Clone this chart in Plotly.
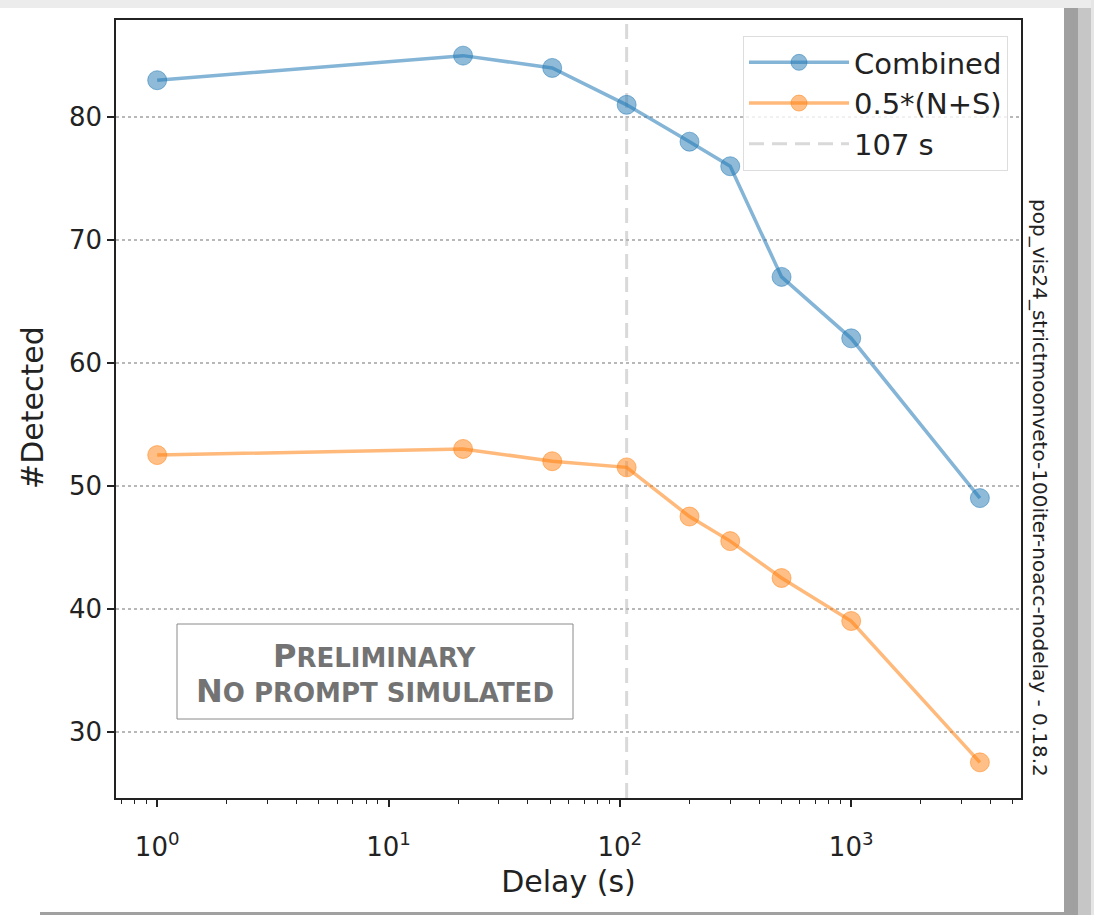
import plotly.graph_objects as go

# ---- data ----
delay_s = [1, 21, 51, 107, 200, 300, 500, 1000, 3600]
combined = [83, 85, 84, 81, 78, 76, 67, 62, 49]
half_ns = [52.5, 53, 52, 51.5, 47.5, 45.5, 42.5, 39, 27.5]
vline_delay = 107
x_tickvals = [1, 10, 100, 1000]
x_ticktext = ["10<sup>0</sup>", "10<sup>1</sup>", "10<sup>2</sup>", "10<sup>3</sup>"]
y_tickvals = [30, 40, 50, 60, 70, 80]

W, H = 1094, 915
ML, MR, MT, MB = 116, 73, 20, 117
PW, PH = W - ML - MR, H - MT - MB

def px(x):
    return (x - ML) / PW

def py(y):
    return (H - MB - y) / PH

FONT = "DejaVu Sans"
BLUE = "31,119,180"
ORANGE = "255,127,14"

minor_vals = []
for d in [0.1, 1, 10, 100, 1000]:
    for k in range(2, 10):
        minor_vals.append(k * d)

fig = go.Figure()
fig.add_trace(go.Scatter(
    x=delay_s, y=combined, name="Combined", mode="lines+markers",
    line=dict(color=f"rgba({BLUE},0.55)", width=3.5),
    marker=dict(size=19, color=f"rgba({BLUE},0.5)",
                line=dict(color=f"rgba({BLUE},0.5)", width=1)),
))
fig.add_trace(go.Scatter(
    x=delay_s, y=half_ns, name="0.5*(N+S)", mode="lines+markers",
    line=dict(color=f"rgba({ORANGE},0.55)", width=3.5),
    marker=dict(size=19, color=f"rgba({ORANGE},0.5)",
                line=dict(color=f"rgba({ORANGE},0.5)", width=1)),
))
fig.add_shape(type="line", xref="x", yref="paper", x0=vline_delay, x1=vline_delay,
              y0=0, y1=1, line=dict(color="#d9d9d9", width=3, dash="15px,8px"),
              showlegend=True, name=f"{vline_delay} s", layer="below")

# frame decoration (grey border of the screenshot)
frame = [
    (0, 0, W, 8, "#ececec"),
    (1064, 8, 1078, H, "#a0a0a0"),
    (1078, 8, 1091, H, "#c6c6c6"),
    (1091, 0, W, H, "#e6e6e6"),
    (40, 912, 1064, H, "#a0a0a0"),
]
for x0, y0, x1, y1, c in frame:
    fig.add_shape(type="rect", xref="paper", yref="paper",
                  x0=px(x0), x1=px(x1), y0=py(y1), y1=py(y0),
                  fillcolor=c, line=dict(width=0), layer="below")

# preliminary box
fig.add_shape(type="rect", xref="paper", yref="paper",
              x0=px(177), x1=px(573), y0=py(719), y1=py(624),
              fillcolor="white", line=dict(color="#8a8a8a", width=1))
for txt, yc in [("<b>P<span style='font-size:26px'>RELIMINARY</span></b>", 656),
                ("<b>N<span style='font-size:26px'>O PROMPT SIMULATED</span></b>", 691)]:
    fig.add_annotation(
        xref="paper", yref="paper", x=px(375), y=py(yc), showarrow=False,
        text=txt, font=dict(family=FONT, size=32, color="#737373"),
        align="center", xanchor="center", yanchor="middle",
    )
fig.add_annotation(
    xref="paper", yref="paper", x=px(1040), y=py(488), showarrow=False,
    text="pop_vis24_strictmoonveto-100iter-noacc-nodelay - 0.18.2",
    textangle=90, font=dict(family=FONT, size=20, color="#222"),
    xanchor="center", yanchor="middle",
)
fig.add_annotation(
    xref="paper", yref="paper", x=px(32), y=py(408), showarrow=False,
    text="#Detected", textangle=-90, font=dict(family=FONT, size=30, color="#222"),
    xanchor="center", yanchor="middle",
)

fig.update_layout(
    width=W, height=H,
    margin=dict(l=ML, r=MR, t=MT, b=MB),
    paper_bgcolor="white", plot_bgcolor="white",
    font=dict(family=FONT, color="#222"),
    showlegend=True,
    legend=dict(x=px(1008), y=py(36), xanchor="right", yanchor="top",
                bgcolor="rgba(255,255,255,0.8)", bordercolor="#dddddd", borderwidth=1,
                font=dict(family=FONT, size=29, color="#222"),
                itemwidth=100, tracegroupgap=0),
    xaxis=dict(
        type="log", range=[-0.178, 3.734],
        tickmode="array", tickvals=x_tickvals, ticktext=x_ticktext,
        ticks="outside", ticklen=7, tickwidth=1.5, tickcolor="#222",
        tickfont=dict(size=26, family=FONT), ticklabelstandoff=18,
        minor=dict(tickmode="array", tickvals=minor_vals, ticks="outside",
                   ticklen=4, tickwidth=1, tickcolor="#222", showgrid=False),
        showgrid=False, zeroline=False,
        showline=True, linecolor="#222", linewidth=1.5, mirror=True,
        title=dict(text="Delay (s)", font=dict(size=30, family=FONT), standoff=10),
    ),
    yaxis=dict(
        range=[24.6, 87.9],
        tickmode="array", tickvals=y_tickvals,
        ticks="outside", ticklen=7, tickwidth=1.5, tickcolor="#222",
        tickfont=dict(size=26, family=FONT),
        showgrid=True, gridcolor="#b8b8b8", gridwidth=1.5, griddash="dot",
        zeroline=False,
        showline=True, linecolor="#222", linewidth=1.5, mirror=True,
    ),
)

fig.write_html("out.html")
